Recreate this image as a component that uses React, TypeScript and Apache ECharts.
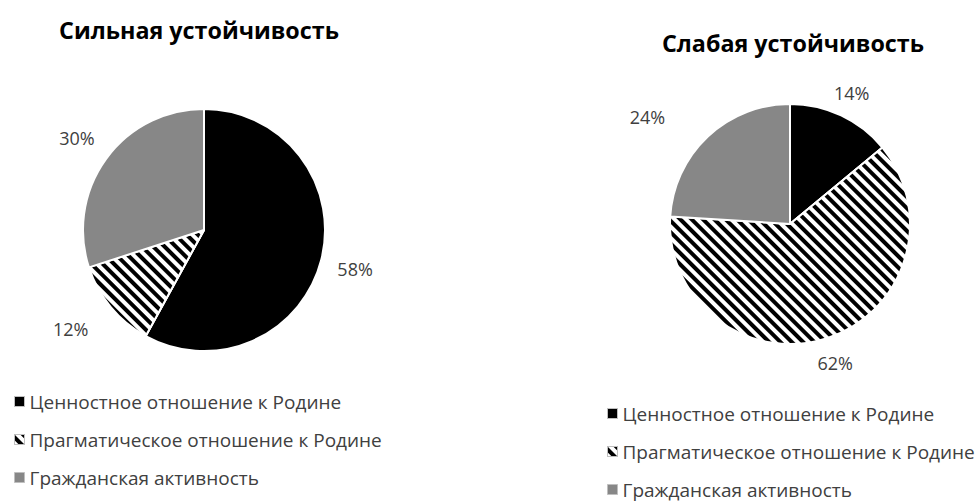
import React, { useEffect, useRef } from "react";
import * as echarts from "echarts";

const categories = [
  "Ценностное отношение к Родине",
  "Прагматическое отношение к Родине",
  "Гражданская активность",
];
const strongValues = [58, 12, 30];
const weakValues = [14, 62, 24];
const titles = ["Сильная устойчивость", "Слабая устойчивость"];

// label placement (distance from pie centre, angular shift in degrees) per slice
const strongLabelRadius = [156, 166, 157];
const strongLabelShift = [0, 3, 0];
const weakLabelRadius = [145, 146, 178];
const weakLabelShift = [0, 0, -10];

const FONT = "'Open Sans', sans-serif";

const hatch = {
  symbol: "rect",
  symbolSize: 1,
  dashArrayX: [1, 0],
  dashArrayY: [3.5, 3.5],
  rotation: Math.PI / 4,
  color: "#000000",
};

const sliceStyles = [
  { color: "#000000" },
  { color: "#ffffff", decal: hatch },
  { color: "#878787" },
];

const pies = [
  { center: [204, 230], radius: 121, values: strongValues, lr: strongLabelRadius, ls: strongLabelShift },
  { center: [790, 224], radius: 120, values: weakValues, lr: weakLabelRadius, ls: weakLabelShift },
];

function buildData(values: number[]) {
  return categories.map((name, i) => ({
    name,
    value: values[i],
    itemStyle: { ...sliceStyles[i], borderColor: "#ffffff", borderWidth: 2 },
  }));
}

function midAngle(values: number[], idx: number) {
  const total = values.reduce((a, b) => a + b, 0);
  let acc = 0;
  for (let i = 0; i < idx; i++) acc += values[i];
  return ((acc + values[idx] / 2) / total) * 360;
}

export default function App() {
  const ref = useRef<HTMLDivElement>(null);
  useEffect(() => {
    document.body.style.margin = "0";
    const chart = echarts.init(ref.current!, null, { renderer: "svg" });
    const legendBase = {
      orient: "vertical",
      icon: "rect",
      itemWidth: 10,
      itemHeight: 10,
      itemGap: 19,
      padding: 0,
      height: 120,
      selectedMode: false,
      textStyle: { color: "#404040", fontSize: 19, fontFamily: FONT },
      itemStyle: { borderColor: "#bfbfbf", borderWidth: 1 },
      data: categories,
    };
    const titleStyle = { fontSize: 23.3, fontWeight: "bold", color: "#000", fontFamily: FONT };
    chart.setOption({
      animation: false,
      backgroundColor: "#ffffff",
      title: [
        { text: titles[0], left: 194, top: 13, textAlign: "center", textStyle: titleStyle },
        { text: titles[1], left: 788, top: 26, textAlign: "center", textStyle: titleStyle },
      ],
      legend: [
        { ...legendBase, left: 14, top: 392 },
        { ...legendBase, left: 607, top: 404 },
      ],
      series: pies.map((p) => ({
        type: "pie",
        center: p.center,
        radius: [0, p.radius],
        startAngle: 90,
        clockwise: true,
        label: {
          show: true,
          position: "outside",
          formatter: "{c}%",
          color: "#404040",
          fontSize: 18,
          fontFamily: FONT,
        },
        labelLine: { show: false },
        labelLayout: (params: any) => {
          const i = params.dataIndex;
          const a = ((midAngle(p.values, i) + p.ls[i]) * Math.PI) / 180;
          return {
            x: p.center[0] + p.lr[i] * Math.sin(a),
            y: p.center[1] - p.lr[i] * Math.cos(a),
            align: "center",
            verticalAlign: "middle",
          };
        },
        data: buildData(p.values),
      })),
    });
    return () => chart.dispose();
  }, []);
  return <div ref={ref} style={{ width: 979, height: 504 }} />;
}
